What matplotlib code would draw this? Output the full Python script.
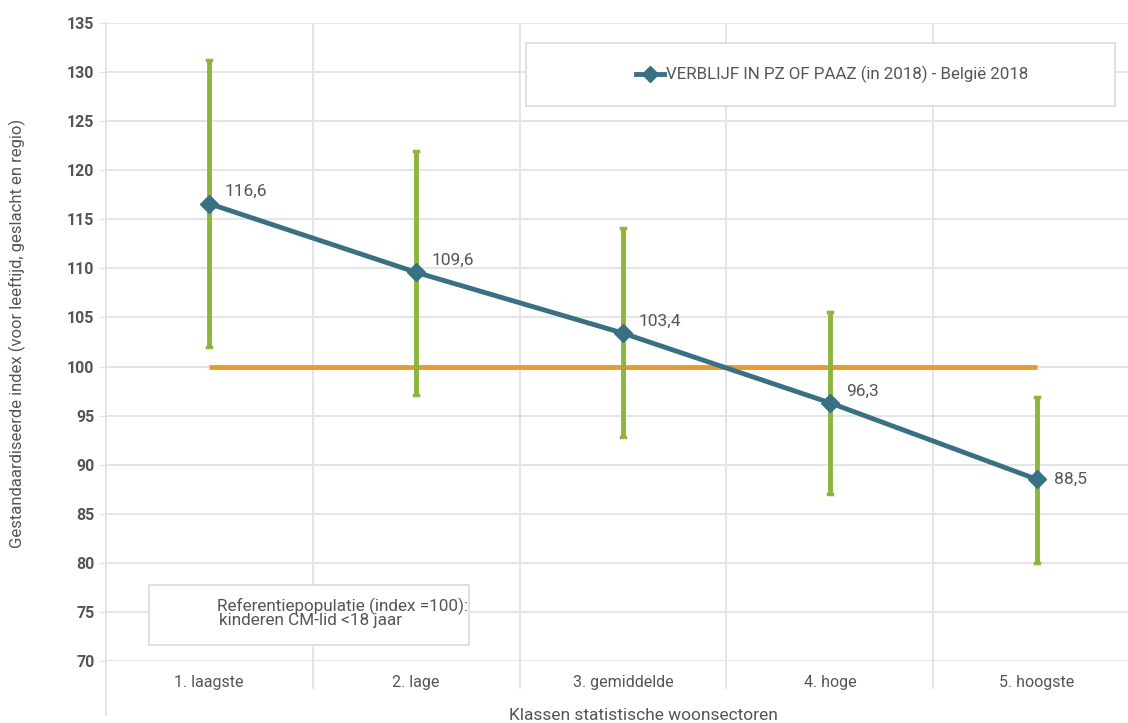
import numpy as np
import matplotlib.pyplot as plt
from matplotlib.lines import Line2D
from matplotlib.patches import Rectangle

plt.rcParams['font.family'] = ['Roboto', 'DejaVu Sans']

categories = ['1. laagste', '2. lage', '3. gemiddelde', '4. hoge', '5. hoogste']
index_values = [116.6, 109.6, 103.4, 96.3, 88.5]
ci_upper = [131.2, 122.0, 114.1, 105.6, 96.9]
ci_lower = [102.0, 97.1, 92.8, 87.0, 80.0]
value_labels = ['116,6', '109,6', '103,4', '96,3', '88,5']
reference = 100

W, H = 1128, 723
fig = plt.figure(figsize=(W / 100, H / 100), dpi=100)
ax = fig.add_axes([105.5 / W, (H - 661) / H, (1140.5 - 105.5) / W, (661 - 23) / H])

x = np.arange(len(categories))
ax.set_xlim(-0.5, 4.5)
ax.set_ylim(70, 135)

grid_col = '#e3e3e3'
text_col = '#555555'

ax.set_yticks(np.arange(70, 136, 5))
ax.yaxis.grid(True, color=grid_col, lw=1.3)
ax.set_axisbelow(True)
for b in np.arange(0.5, 5, 1):
    ax.plot([b, b], [135, 70], color=grid_col, lw=1.3, zorder=0)
    ax.plot([b, b], [70, 67.2], color=grid_col, lw=1.3, zorder=0, clip_on=False)

for s in ['top', 'right', 'bottom']:
    ax.spines[s].set_visible(False)
ax.spines['left'].set_color(grid_col)
ax.spines['left'].set_linewidth(1.3)
ax.spines['left'].set_bounds(70, 135)
ax.plot([-0.5, -0.5], [70, 64.5], color=grid_col, lw=1.3, clip_on=False)

ax.tick_params(axis='y', colors=grid_col, length=5, width=1, labelcolor=text_col,
               labelsize=11.5, pad=3)
for lab in ax.get_yticklabels():
    lab.set_fontweight('bold')
ax.set_xticks(x)
ax.set_xticklabels(categories, color=text_col, fontsize=11.5)
ax.tick_params(axis='x', length=0, pad=10)

# reference line
ax.plot([x[0], x[-1]], [reference, reference], color='#E89B2C', lw=3.5, zorder=2,
        solid_capstyle='butt')

# confidence intervals
for xi, lo, hi in zip(x, ci_lower, ci_upper):
    ax.plot([xi, xi], [lo, hi], color='#8DB53C', lw=3.5, zorder=3,
            solid_capstyle='butt')
    ax.plot([xi - 0.012, xi + 0.012], [hi, hi], color='#8DB53C', lw=2.5, zorder=3)
    ax.plot([xi - 0.012, xi + 0.012], [lo, lo], color='#8DB53C', lw=2.5, zorder=3)

line_col = '#3A7084'
ax.plot(x, index_values, color=line_col, lw=3.5, marker='D', markersize=9.5,
        zorder=4)

for i, (xi, v, t) in enumerate(zip(x, index_values, value_labels)):
    dy = 12 if i < 4 else 0
    dx = 16 if i < 4 else 17
    ax.annotate(t, (xi, v), xytext=(dx, dy), textcoords='offset pixels',
                ha='left', va='center', color=text_col, fontsize=12.5)

# legend box
fig.patches.append(Rectangle((526 / W, (H - 106) / H), (1115 - 526) / W, 63 / H,
                             transform=fig.transFigure, facecolor='white',
                             edgecolor='#dddddd', lw=1.3, zorder=5))
fig.lines.append(Line2D([636 / W, 664 / W], [(H - 74) / H] * 2, color=line_col, lw=3.5,
                        transform=fig.transFigure, zorder=6))
fig.lines.append(Line2D([650 / W], [(H - 74) / H], color=line_col, marker='D',
                        markersize=8, lw=0, transform=fig.transFigure, zorder=6))
fig.text(666 / W, (H - 74) / H, 'VERBLIJF IN PZ OF PAAZ (in 2018) - België 2018',
         ha='left', va='center', color=text_col, fontsize=12.2, zorder=7)

# reference population box
fig.patches.append(Rectangle((149 / W, (H - 645) / H), (469 - 149) / W, 60 / H,
                             transform=fig.transFigure, facecolor='white',
                             edgecolor='#dddddd', lw=1.3, zorder=5))
fig.text(217 / W, (H - 606) / H, 'Referentiepopulatie (index =100):',
         ha='left', va='center', color=text_col, fontsize=12.3, zorder=7)
fig.text(219 / W, (H - 620) / H, 'kinderen CM-lid <18 jaar',
         ha='left', va='center', color=text_col, fontsize=12.3, zorder=7)

fig.text(643 / W, (H - 715) / H, 'Klassen statistische woonsectoren', ha='center',
         va='center', color=text_col, fontsize=12.5)
fig.text(17 / W, (H - 333) / H, 'Gestandaardiseerde index (voor leeftijd, geslacht en regio)',
         ha='center', va='center', rotation=90, color=text_col, fontsize=12)

fig.savefig('out.png', dpi=100)
